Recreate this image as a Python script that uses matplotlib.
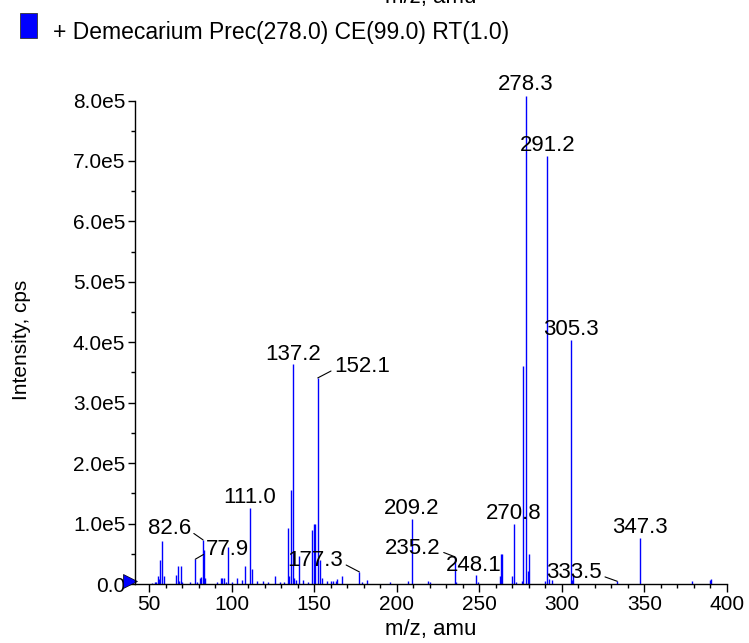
import matplotlib
matplotlib.use("Agg")
import matplotlib.pyplot as plt
import matplotlib.ticker as mticker
import matplotlib.transforms as mtransforms
from matplotlib.patches import Rectangle

# peak list: m/z and intensity (cps)
mz = [51.4, 53.2, 54.0, 55.1, 55.9, 56.7, 57.7, 59.1,
      66.2, 67.2, 68.2, 69.0, 70.0, 74.4, 77.9, 79.0,
      80.5, 81.6, 82.6, 83.1, 84.0, 90.8, 93.2, 94.2, 95.3, 96.5,
      97.9, 100.0, 103.0, 106.0, 108.3, 111.0, 112.0, 115.0, 118.7, 122.0,
      126.0, 129.0, 131.5, 134.2, 134.8, 135.8, 137.2, 137.7, 139.0, 140.5,
      143.3, 146.0, 148.6, 149.6, 150.6, 152.1, 153.4, 154.4, 157.5, 160.0,
      161.5, 163.0, 164.0, 166.6, 177.3, 178.9, 182.1, 195.8, 206.9, 209.2,
      219.0, 220.0, 235.2, 236.0, 248.1, 249.0, 262.5, 262.9, 263.5, 270.0,
      270.8, 272.0, 275.6, 276.2, 278.3, 279.3, 280.2, 289.7, 291.2, 292.0,
      293.8, 305.3, 305.9, 306.9, 333.5, 347.3, 378.6, 389.7, 390.3]
intensity = [2000, 3000, 4000, 13000, 8000, 39000, 71000, 13000,
             15000, 30000, 5000, 29000, 4000, 4000, 41000, 3000,
             10000, 12000, 73000, 57000, 10000, 4000, 10000, 10000, 10000, 4000,
             62000, 3000, 10000, 6000, 30000, 126000, 24000, 5000, 5000, 4000,
             14000, 3000, 3000, 92000, 13000, 155000, 364000, 10000, 7000, 47000,
             7000, 4000, 90000, 99000, 99000, 341000, 40000, 10000, 5000, 5000,
             5000, 5000, 8000, 13000, 20000, 3000, 7000, 3000, 5500, 108000,
             5500, 3000, 45000, 3000, 15500, 3000, 13000, 50000, 50000, 13000,
             99000, 3000, 4500, 360000, 808000, 21000, 49000, 4500, 709000, 9000,
             7000, 404000, 7000, 15500, 4500, 76000, 4500, 6000, 8000]

# labelled peaks
label_mz = [278.3, 291.2, 305.3, 137.2, 152.1, 111.0, 209.2, 270.8, 347.3,
            82.6, 77.9, 177.3, 235.2, 248.1, 333.5]
# label placement in pixels relative to the peak top: dx, dy, align, leader
label_pos = [(0, 6, 'center', False), (0, 5, 'center', False),
             (0, 5, 'center', False), (0, 4, 'center', False),
             (16, 6, 'left', True), (0, 5, 'center', False),
             (0, 5, 'center', False), (0, 5, 'center', False),
             (0, 5, 'center', False), (-12, 6, 'right', True),
             (11, 4, 'left', True), (-16, 6, 'right', True),
             (-14, 3, 'right', True), (-2, 4, 'center', False),
             (-15, 3, 'right', True)]

yticks = [0, 1e5, 2e5, 3e5, 4e5, 5e5, 6e5, 7e5, 8e5]
xticks = [50, 100, 150, 200, 250, 300, 350, 400]

plt.rcParams['font.family'] = ['Liberation Sans', 'DejaVu Sans']

W, H = 749, 643
fig = plt.figure(figsize=(W / 100, H / 100), dpi=100)
ax = fig.add_axes([134.7 / W, (H - 584) / H, (727 - 134.7) / W, (584 - 95.7) / H])

ax.vlines(mz, 0, intensity, colors='#0000ff', lw=1.0)

ax.set_xlim(41.2, 400)
ax.set_ylim(0, 8.08e5)

ax.spines['right'].set_visible(False)
ax.spines['top'].set_visible(False)
ax.spines['left'].set_linewidth(1.0)
ax.spines['left'].set_bounds(0, 8e5)
ax.spines['bottom'].set_linewidth(1.0)

ax.set_xticks(xticks)
ax.set_yticks(yticks)
ax.xaxis.set_minor_locator(mticker.MultipleLocator(10))
ax.yaxis.set_minor_locator(mticker.MultipleLocator(0.5e5))
ax.yaxis.set_major_formatter(mticker.FuncFormatter(
    lambda v, p: '0.0' if v == 0 else '%.1fe5' % (v / 1e5)))
ax.tick_params(axis='x', which='major', length=5.8, width=1, labelsize=15, pad=2)
ax.tick_params(axis='y', which='major', length=4.8, width=1, labelsize=15, pad=2)
ax.tick_params(which='minor', length=2.6, width=1)

ax.set_xlabel('m/z, amu', fontsize=16, labelpad=4)
ax.set_ylabel('Intensity, cps', fontsize=15, labelpad=30)

# peak labels
for lab, (dx, dy, ha, leader) in zip(label_mz, label_pos):
    yv = intensity[mz.index(lab)]
    props = None
    if leader:
        rx = 1 if ha == 'right' else 0
        props = dict(arrowstyle='-', lw=0.8, color='black',
                     shrinkA=0, shrinkB=0, relpos=(rx, 0.35))
    ax.annotate('%.1f' % lab, xy=(lab, yv), xytext=(dx, dy),
                textcoords='offset pixels', ha=ha, va='baseline',
                fontsize=16, arrowprops=props)

# blue precursor marker at the origin
trans = ax.get_yaxis_transform() + mtransforms.ScaledTranslation(-5 / 100, 0, fig.dpi_scale_trans)
ax.plot([0], [0.05e5], marker='>', markersize=10, color='#0000ff',
        markeredgecolor='black', markeredgewidth=0.5, transform=trans, clip_on=False)

# header from the plot above and the legend entry
fig.text(431 / W, 1 - 3 / H, 'm/z, amu', ha='center', va='baseline', fontsize=16)
fig.patches.append(Rectangle((20 / W, 1 - 38 / H), 17 / W, 25 / H, facecolor='#0000ff',
                             edgecolor='#333333', lw=0.6, transform=fig.transFigure))
fig.text(52.6 / W, 1 - 39 / H, '+ Demecarium Prec(278.0) CE(99.0) RT(1.0)',
         ha='left', va='baseline', fontsize=16.5)

fig.savefig('out.png', dpi=100)
